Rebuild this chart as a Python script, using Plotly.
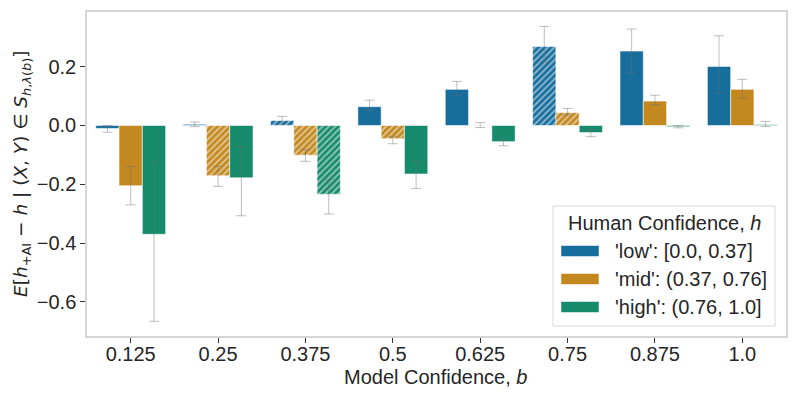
import plotly.graph_objects as go

categories = ["0.125", "0.25", "0.375", "0.5", "0.625", "0.75", "0.875", "1.0"]
series_names = ["'low': [0.0, 0.37]", "'mid': (0.37, 0.76]", "'high': (0.76, 1.0]"]

low = [-0.010, 0.004, 0.017, 0.064, 0.123, 0.269, 0.253, 0.201]
low_hi = [0.000, 0.012, 0.031, 0.086, 0.150, 0.337, 0.328, 0.305]
low_lo = [-0.023, -0.004, 0.008, 0.052, 0.103, 0.216, 0.181, 0.110]

mid = [-0.205, -0.171, -0.101, -0.045, 0.001, 0.044, 0.083, 0.123]
mid_hi = [-0.139, -0.139, -0.081, -0.037, 0.010, 0.058, 0.103, 0.157]
mid_lo = [-0.270, -0.207, -0.122, -0.062, -0.007, 0.036, 0.071, 0.093]

high = [-0.370, -0.178, -0.234, -0.165, -0.055, -0.024, -0.004, 0.003]
high_hi = [-0.125, -0.071, -0.183, -0.122, -0.045, -0.015, 0.000, 0.014]
high_lo = [-0.666, -0.307, -0.301, -0.214, -0.069, -0.038, -0.008, -0.003]

low_hatch = [False, False, True, False, False, True, False, False]
mid_hatch = [False, True, True, True, False, True, False, False]
high_hatch = [False, False, True, False, False, False, False, False]

ytick_vals = [-0.6, -0.4, -0.2, 0.0, 0.2]
ytick_text = ["−0.6", "−0.4", "−0.2", "0.0", "0.2"]

x_title = "Model Confidence, <i>b</i>"
y_title = ("<i>E</i>[<i>h</i><sub>+AI</sub> − <i>h</i> | (<i>X</i>, <i>Y</i>) ∈ "
           "<i>S</i><sub><i>h</i>,<i>λ</i>(<i>b</i>)</sub>]")
legend_title = "Human Confidence, <i>h</i>"

colors = ["#176D9C", "#C3881F", "#168B6B"]
FONT = "Liberation Sans, Arial, sans-serif"
MATHFONT = "DejaVu Sans, sans-serif"
TXT = "#262626"
FS = 20

# page body has an 8px margin; figure is placed at (8, 8)
OFF = 8
FW, FH = 797 - 2 * OFF, 399 - 2 * OFF

fig = go.Figure()
for name, vals, hi, lo, hatch, col in zip(
        series_names, [low, mid, high], [low_hi, mid_hi, high_hi],
        [low_lo, mid_lo, high_lo], [low_hatch, mid_hatch, high_hatch], colors):
    fig.add_trace(go.Bar(
        x=categories, y=vals, name=name, showlegend=False,
        marker=dict(
            color=col,
            line=dict(color="rgba(255,255,255,0.55)", width=1),
            pattern=dict(shape=["/" if h else "" for h in hatch],
                         fillmode="overlay", fgcolor="white",
                         size=4.5, solidity=0.4),
        ),
        error_y=dict(type="data", symmetric=False,
                     array=[h - v for h, v in zip(hi, vals)],
                     arrayminus=[v - l for v, l in zip(vals, lo)],
                     color="rgba(110,110,110,0.45)", thickness=1, width=5),
    ))

# plot area in window pixels
L, R, T, B = 87, 786, 12, 336
W, H = R - L, B - T
def px(x):
    return (x - L) / W
def py(y):
    return (B - y) / H

shapes = []
annotations = []
# legend box
shapes.append(dict(type="rect", xref="paper", yref="paper",
                   x0=px(553), x1=px(775), y0=py(326), y1=py(206),
                   line=dict(color="#d9d9d9", width=1), fillcolor="white", layer="above"))
annotations.append(dict(xref="paper", yref="paper", x=px(664), y=py(223),
                        text=legend_title, showarrow=False,
                        xanchor="center", yanchor="middle",
                        font=dict(family=FONT, size=FS, color=TXT)))
for i, (name, col) in enumerate(zip(series_names, colors)):
    yc = [251, 279, 307][i]
    shapes.append(dict(type="rect", xref="paper", yref="paper",
                       x0=px(561), x1=px(599), y0=py(yc + 5.5), y1=py(yc - 5.5),
                       line=dict(color="rgba(255,255,255,0.5)", width=1),
                       fillcolor=col, layer="above"))
    annotations.append(dict(xref="paper", yref="paper", x=px(613), y=py(yc),
                            text=name, showarrow=False, xanchor="left", yanchor="middle",
                            font=dict(family=FONT, size=FS, color=TXT)))
# axis titles
annotations.append(dict(xref="paper", yref="paper", x=px(435), y=py(377),
                        text=x_title, showarrow=False, xanchor="center", yanchor="middle",
                        font=dict(family=FONT, size=FS, color=TXT)))
annotations.append(dict(xref="paper", yref="paper", x=px(22), y=py(174),
                        text=y_title, showarrow=False, xanchor="center", yanchor="middle",
                        textangle=-90,
                        font=dict(family=MATHFONT, size=18.5, color=TXT)))

fig.update_layout(
    width=FW, height=FH,
    margin=dict(l=L - OFF, r=FW - (R - OFF), t=T - OFF, b=FH - (B - OFF)),
    paper_bgcolor="white", plot_bgcolor="white",
    barmode="group", bargap=0.2, bargroupgap=0,
    font=dict(family=FONT, size=FS, color=TXT),
    shapes=shapes, annotations=annotations,
    showlegend=False,
)
fig.update_xaxes(
    type="category", range=[-0.5, 7.5], automargin=False,
    showline=True, mirror=True, linecolor="#d6d6d6", linewidth=1.5,
    ticks="outside", ticklen=5, tickwidth=1, tickcolor="#333",
    ticklabelstandoff=-6,
    showgrid=False, zeroline=False,
    tickfont=dict(family=FONT, size=FS, color=TXT),
)
fig.update_yaxes(
    range=[-0.716, 0.386], automargin=False,
    tickvals=ytick_vals, ticktext=ytick_text,
    showline=True, mirror=True, linecolor="#d6d6d6", linewidth=1.5,
    ticks="outside", ticklen=5, tickwidth=1, tickcolor="#333",
    showgrid=False, zeroline=False,
    tickfont=dict(family=FONT, size=FS, color=TXT),
)

fig.write_html("out.html")
